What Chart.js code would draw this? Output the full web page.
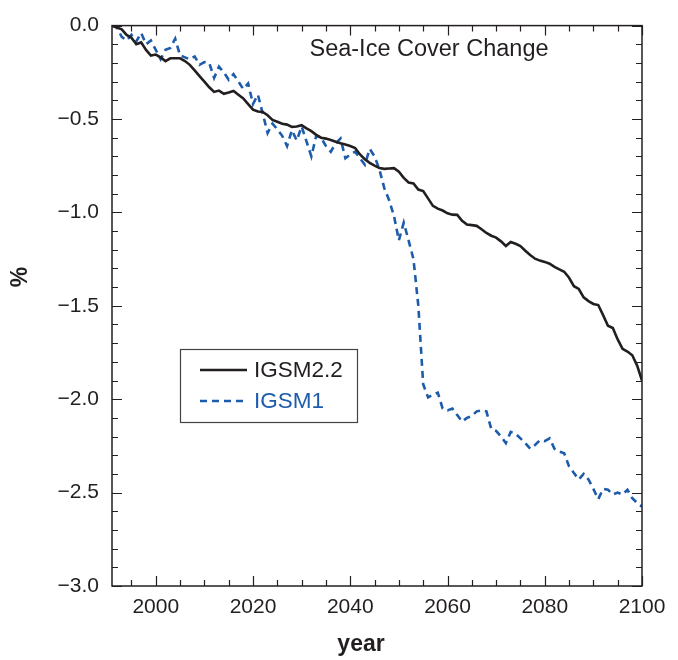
<!DOCTYPE html>
<html>
<head>
<meta charset="utf-8">
<script src="https://cdn.jsdelivr.net/npm/chart.js@4/dist/chart.umd.min.js"></script>
<style>
html,body{margin:0;padding:0;background:#fff;}
#wrap{width:678px;height:660px;position:relative;}
</style>
</head>
<body>
<div id="wrap"><canvas id="c" width="678" height="660"></canvas></div>
<script>
// ---- data ----
const years = [
1991,1992,1993,1994,1995,1996,1997,1998,1999,2000,
2001,2002,2003,2004,2005,2006,2007,2008,2009,2010,
2011,2012,2013,2014,2015,2016,2017,2018,2019,2020,
2021,2022,2023,2024,2025,2026,2027,2028,2029,2030,
2031,2032,2033,2034,2035,2036,2037,2038,2039,2040,
2041,2042,2043,2044,2045,2046,2047,2048,2049,2050,
2051,2052,2053,2054,2055,2056,2057,2058,2059,2060,
2061,2062,2063,2064,2065,2066,2067,2068,2069,2070,
2071,2072,2073,2074,2075,2076,2077,2078,2079,2080,
2081,2082,2083,2084,2085,2086,2087,2088,2089,2090,
2091,2092,2093,2094,2095,2096,2097,2098,2099,2100];

const igsm22 = [
0.00,-0.01,-0.02,-0.05,-0.065,-0.10,-0.09,-0.13,-0.16,-0.155,
-0.17,-0.19,-0.175,-0.175,-0.175,-0.19,-0.21,-0.24,-0.27,-0.30,
-0.33,-0.355,-0.348,-0.365,-0.358,-0.35,-0.37,-0.39,-0.42,-0.45,
-0.46,-0.462,-0.48,-0.505,-0.515,-0.525,-0.53,-0.542,-0.54,-0.533,
-0.55,-0.565,-0.585,-0.60,-0.605,-0.612,-0.622,-0.63,-0.637,-0.645,
-0.655,-0.69,-0.715,-0.735,-0.75,-0.762,-0.767,-0.765,-0.763,-0.782,
-0.815,-0.84,-0.845,-0.878,-0.886,-0.925,-0.965,-0.98,-0.99,-1.005,
-1.012,-1.013,-1.045,-1.065,-1.068,-1.072,-1.09,-1.11,-1.125,-1.135,
-1.155,-1.18,-1.158,-1.168,-1.18,-1.205,-1.228,-1.248,-1.258,-1.265,
-1.275,-1.292,-1.305,-1.318,-1.35,-1.395,-1.41,-1.455,-1.475,-1.49,
-1.496,-1.55,-1.607,-1.619,-1.68,-1.73,-1.745,-1.765,-1.82,-1.90];

const igsm1 = [
0.00,-0.01,-0.06,-0.08,-0.05,-0.085,-0.04,-0.10,-0.08,-0.13,
-0.18,-0.13,-0.12,-0.07,-0.16,-0.17,-0.18,-0.165,-0.21,-0.195,
-0.20,-0.28,-0.22,-0.25,-0.29,-0.26,-0.30,-0.34,-0.31,-0.42,
-0.37,-0.47,-0.575,-0.525,-0.555,-0.59,-0.645,-0.56,-0.615,-0.54,
-0.62,-0.70,-0.59,-0.60,-0.645,-0.675,-0.63,-0.605,-0.71,-0.69,
-0.675,-0.71,-0.745,-0.66,-0.70,-0.77,-0.87,-0.935,-1.02,-1.15,
-1.055,-1.15,-1.25,-1.50,-1.92,-1.99,-1.975,-1.965,-2.05,-2.06,
-2.05,-2.085,-2.12,-2.10,-2.09,-2.065,-2.06,-2.065,-2.16,-2.17,
-2.20,-2.235,-2.175,-2.185,-2.21,-2.235,-2.265,-2.245,-2.22,-2.225,
-2.21,-2.265,-2.28,-2.29,-2.36,-2.395,-2.43,-2.40,-2.43,-2.48,
-2.535,-2.48,-2.485,-2.51,-2.50,-2.51,-2.485,-2.53,-2.555,-2.575];

const xMajorTicks = [2000,2020,2040,2060,2080,2100];
const yMajorTicks = [0,-0.5,-1.0,-1.5,-2.0,-2.5,-3.0];
const seriesNames = ['IGSM2.2','IGSM1'];
const chartTitle = 'Sea-Ice Cover Change';
const xTitle = 'year';
const yTitle = '%';

// ---- styling ----
const FONT = '"Liberation Sans", Arial, sans-serif';
const AXIS = '#231f20';
const BLUE = '#1d5bab';
const BLACK = '#231f20';

const toPts = (vals) => years.map((y,i)=>({x:y, y:vals[i]}));

const decor = {
  id:'decor',
  afterDraw(chart){
    const {ctx, chartArea:a, scales:{x, y}} = chart;
    ctx.save();
    // frame
    ctx.strokeStyle = AXIS; ctx.lineWidth = 1.5;
    ctx.strokeRect(a.left, a.top, a.right-a.left, a.bottom-a.top);
    // ticks inward
    ctx.lineWidth = 1.2;
    ctx.beginPath();
    for (let yr = 1995; yr <= 2100; yr += 5){
      const px = Math.round(x.getPixelForValue(yr))+0.5;
      const len = (yr % 20 === 0) ? 10 : 6;
      ctx.moveTo(px, a.bottom); ctx.lineTo(px, a.bottom-len);
      ctx.moveTo(px, a.top); ctx.lineTo(px, a.top+len);
    }
    for (let k = 0; k <= 30; k++){
      const v = -k/10;
      const py = Math.round(y.getPixelForValue(v))+0.5;
      const len = (k % 5 === 0) ? 10 : 6;
      ctx.moveTo(a.left, py); ctx.lineTo(a.left+len, py);
      ctx.moveTo(a.right, py); ctx.lineTo(a.right-len, py);
    }
    ctx.stroke();

    // chart title
    ctx.fillStyle = BLACK;
    ctx.font = '23.5px ' + FONT;
    ctx.textAlign = 'center'; ctx.textBaseline = 'middle';
    ctx.fillText(chartTitle, 429, 50);

    // axis titles
    ctx.font = 'bold 23px ' + FONT;
    ctx.fillText(xTitle, 361, 645);
    ctx.save();
    ctx.translate(21, 277);
    ctx.rotate(-Math.PI/2);
    ctx.fillText(yTitle, 0, 0);
    ctx.restore();

    // legend
    const lx = 180, ly = 349, lw = 177, lh = 73;
    ctx.strokeStyle = '#444'; ctx.lineWidth = 1.2;
    ctx.strokeRect(lx+0.5, ly+0.5, lw, lh);
    ctx.lineWidth = 2.6;
    ctx.strokeStyle = BLACK;
    ctx.beginPath(); ctx.moveTo(200, 370); ctx.lineTo(247, 370); ctx.stroke();
    ctx.strokeStyle = BLUE; ctx.setLineDash([7,5]);
    ctx.beginPath(); ctx.moveTo(200, 401); ctx.lineTo(247, 401); ctx.stroke();
    ctx.setLineDash([]);
    ctx.font = '22.5px ' + FONT;
    ctx.textAlign = 'left';
    ctx.fillStyle = BLACK; ctx.fillText(seriesNames[0], 254, 371);
    ctx.fillStyle = BLUE; ctx.fillText(seriesNames[1], 254, 402);
    ctx.restore();
  }
};

new Chart(document.getElementById('c'), {
  type:'line',
  data:{
    datasets:[
      {label:seriesNames[0], data:toPts(igsm22), borderColor:BLACK, borderWidth:2.6, pointRadius:0, tension:0, fill:false},
      {label:seriesNames[1], data:toPts(igsm1), borderColor:BLUE, borderWidth:2.6, borderDash:[7,5], pointRadius:0, tension:0, fill:false}
    ]
  },
  options:{
    responsive:false, animation:false,
    layout:{padding:{top:19, right:36, left:0, bottom:0}},
    plugins:{legend:{display:false}, tooltip:{enabled:false}},
    scales:{
      x:{
        type:'linear', min:1991, max:2100,
        afterBuildTicks: s => { s.ticks = xMajorTicks.map(v=>({value:v})); },
        afterFit: s => { s.height = 74; },
        grid:{display:false, drawTicks:false},
        border:{display:false},
        ticks:{font:{family:FONT, size:21}, color:BLACK, padding:9, maxRotation:0, autoSkip:false,
               callback: v => String(v)}
      },
      y:{
        type:'linear', min:-3, max:0,
        afterBuildTicks: s => { s.ticks = yMajorTicks.map(v=>({value:v})); },
        afterFit: s => { s.width = 112; },
        grid:{display:false, drawTicks:false},
        border:{display:false},
        ticks:{font:{family:FONT, size:21}, color:BLACK, padding:13,
               callback: v => (v < 0 ? '\u2212' : '') + Math.abs(v).toFixed(1)}
      }
    }
  },
  plugins:[decor]
});
</script>
</body>
</html>
